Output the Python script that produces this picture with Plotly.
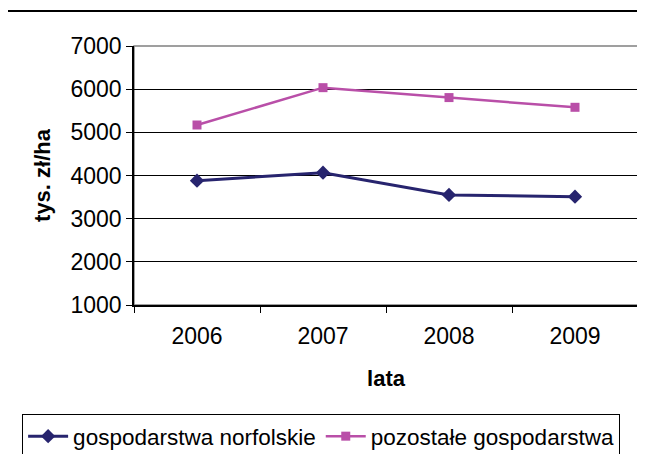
import plotly.graph_objects as go

years = ['2006', '2007', '2008', '2009']
norfolk = [3880, 4065, 3550, 3510]
others = [5170, 6035, 5805, 5580]

series_names = ['gospodarstwa norfolskie', 'pozostałe gospodarstwa']
y_ticks = [1000, 2000, 3000, 4000, 5000, 6000, 7000]

fig = go.Figure()
fig.add_trace(go.Scatter(
    x=years, y=norfolk, mode='lines+markers', name=series_names[0],
    line=dict(color='#27246E', width=3),
    marker=dict(symbol='diamond', size=11, color='#27246E')
))
fig.add_trace(go.Scatter(
    x=years, y=others, mode='lines+markers', name=series_names[1],
    line=dict(color='#B94FA8', width=2.5),
    marker=dict(symbol='square', size=9, color='#B94FA8')
))

# plot area frame (gray) and outer chart border
fig.add_shape(type='rect', xref='paper', yref='paper', x0=0, x1=1, y0=0, y1=1,
              line=dict(color='#808080', width=1.5), layer='below')
fig.add_shape(type='rect', xref='paper', yref='paper', x0=-0.252, x1=1.1, y0=-0.8, y1=1.135,
              line=dict(color='black', width=2))

# page body adds an 8px offset, so margins are shifted by that much
fig.update_layout(
    width=645, height=454,
    margin=dict(l=126, r=15, t=38, b=157, autoexpand=False),
    paper_bgcolor='white', plot_bgcolor='white',
    font=dict(family='Arial, Liberation Sans', size=23, color='black'),
    showlegend=True,
    legend=dict(
        orientation='h', x=-0.222, xanchor='left', y=-0.421, yanchor='top',
        bordercolor='black', borderwidth=1, font=dict(size=22.5),
        itemwidth=40, tracegroupgap=0
    ),
    xaxis=dict(
        type='category', range=[-0.5, 3.5], showgrid=False, showline=True,
        linecolor='black', linewidth=1.5, automargin=False,
        ticks='outside', tickson='boundaries', ticklen=6, tickcolor='black',
        ticklabelstandoff=10,
        title=dict(text='<b>lata</b>', standoff=22, font=dict(size=22)),
    ),
    yaxis=dict(
        range=[1000, 7000], tickvals=y_ticks, showgrid=True, gridcolor='black', gridwidth=1,
        showline=True, linecolor='black', linewidth=1.5, automargin=False,
        ticks='outside', ticklen=6, tickcolor='black', zeroline=False,
        title=dict(text='<b>tys. zł/ha</b>', standoff=14, font=dict(size=22)),
    ),
)

fig.write_html("out.html")
